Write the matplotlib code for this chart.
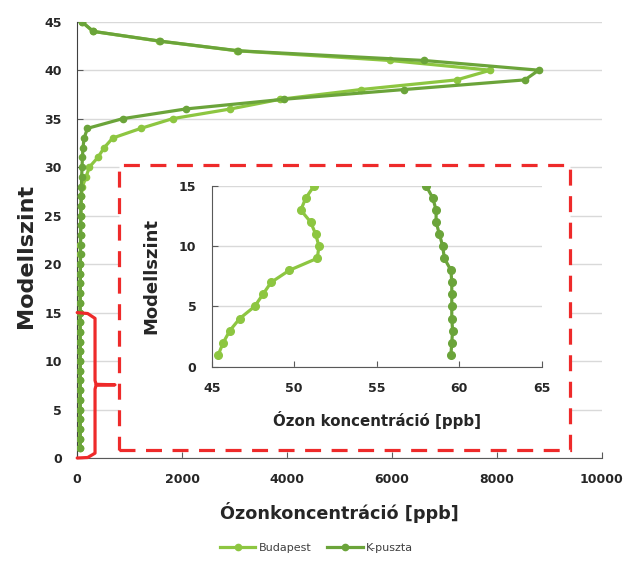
import matplotlib
matplotlib.use("Agg")
import matplotlib.pyplot as plt
from matplotlib.patches import Rectangle

# modellszintek (1..45) es ozon koncentracio [ppb]
szintek = list(range(1, 46))
budapest = [45.4, 45.7, 46.1, 46.7, 47.6, 48.1, 48.6, 49.7, 51.4, 51.5,
            51.3, 51.0, 50.4, 50.7, 51.2, 52, 53, 54, 56, 57,
            59, 61, 63, 65, 68, 72, 80, 100, 170, 231,
            395, 513, 677, 1215, 1819, 2923, 3875, 5404, 7237, 7880,
            5963, 3050, 1560, 300, 86]
kpuszta = [59.5, 59.55, 59.6, 59.55, 59.55, 59.55, 59.55, 59.5, 59.1, 59.0,
           58.8, 58.6, 58.6, 58.4, 58.0, 58, 59, 60, 61, 62,
           63, 64, 66, 68, 70, 73, 76, 80, 85, 92,
           100, 110, 132, 196, 868, 2069, 3940, 6226, 8538, 8801,
           6613, 3074, 1577, 309, 86]

# also 15 szint a kinagyitott abrara
also_szintek = szintek[:15]
also_budapest = budapest[:15]
also_kpuszta = kpuszta[:15]

fo_xticks = [0, 2000, 4000, 6000, 8000, 10000]
fo_yticks = [0, 5, 10, 15, 20, 25, 30, 35, 40, 45]
kis_xticks = [45, 50, 55, 60, 65]
kis_yticks = [0, 5, 10, 15]

vilagos = "#8DC641"
sotet = "#6BA43A"
piros = "#EE2A2A"
racs = "#D9D9D9"
tengely = "#595959"

plt.rcParams["font.family"] = "DejaVu Sans"

fig = plt.figure(figsize=(6.33, 5.70), dpi=100)

# fo abra
ax = fig.add_axes([77.2 / 633, 112 / 570, 524.4 / 633, 436.3 / 570])
ax.plot(budapest, szintek, color=vilagos, lw=2.3, marker="o", ms=4.5, label="Budapest", zorder=4)
ax.plot(kpuszta, szintek, color=sotet, lw=2.3, marker="o", ms=4.5, label="K-puszta", zorder=5)
ax.set_xlim(0, 10000)
ax.set_ylim(0, 45)
ax.set_xticks(fo_xticks)
ax.set_yticks(fo_yticks)
ax.grid(axis="y", color=racs, lw=1, zorder=0)
ax.set_axisbelow(True)
for s in ["top", "right"]:
    ax.spines[s].set_visible(False)
ax.spines["left"].set_color("#404040")
ax.spines["bottom"].set_color(tengely)
ax.tick_params(direction="in", length=4, color=tengely, pad=11, labelsize=9)
for lab in ax.get_xticklabels() + ax.get_yticklabels():
    lab.set_fontweight("bold")
    lab.set_color("#262626")
ax.set_xlabel("Ózonkoncentráció [ppb]", fontsize=12.7, fontweight="bold", color="#262626")
ax.set_ylabel("Modellszint", fontsize=16, fontweight="bold", color="#262626")
ax.xaxis.set_label_coords(0.5, -0.10)
ax.yaxis.set_label_coords(-0.079, 0.463)

# szaggatott keret a kinagyitott reszhez
keret = Rectangle((788, 0.83), 9397 - 788, 30.2 - 0.83, facecolor="white", edgecolor=piros,
                  lw=2.3, linestyle=(0, (5, 3.3)), zorder=2)
ax.add_patch(keret)

# kapcsos zarojel 0-15 szint
bx = [0, 200, 340, 340, 360, 720, 360, 340, 340, 200, 0]
by = [15, 14.9, 14.4, 8.0, 7.6, 7.55, 7.5, 7.1, 0.5, 0.05, 0]
ax.plot(bx, by, color=piros, lw=2.3, solid_capstyle="round", zorder=6, clip_on=False)

# kinagyitott abra
ins = fig.add_axes([211.7 / 633, 203.3 / 570, 330 / 633, 180.7 / 570])
ins.set_facecolor("none")
ins.plot(also_budapest, also_szintek, color=vilagos, lw=2.3, marker="o", ms=5.5)
ins.plot(also_kpuszta, also_szintek, color=sotet, lw=2.3, marker="o", ms=5.5)
ins.set_xlim(45, 65)
ins.set_ylim(0, 15)
ins.set_xticks(kis_xticks)
ins.set_yticks(kis_yticks)
ins.grid(axis="y", color=racs, lw=1)
ins.set_axisbelow(True)
for s in ["top", "right"]:
    ins.spines[s].set_visible(False)
ins.spines["left"].set_color(tengely)
ins.spines["bottom"].set_color(tengely)
ins.tick_params(direction="in", length=4, color=tengely, pad=11, labelsize=9)
for lab in ins.get_xticklabels() + ins.get_yticklabels():
    lab.set_fontweight("bold")
    lab.set_color("#262626")
ins.set_xlabel("Ózon koncentráció [ppb]", fontsize=10.8, fontweight="bold", color="#262626")
ins.set_ylabel("Modellszint", fontsize=13, fontweight="bold", color="#262626")
ins.xaxis.set_label_coords(0.5, -0.245)
ins.yaxis.set_label_coords(-0.155, 0.5)

# jelmagyarazat alul
h, l = ax.get_legend_handles_labels()
fig.legend(h, l, loc="center", bbox_to_anchor=(0.5, 0.039), ncol=2, frameon=False,
           fontsize=8, handlelength=3.2, handletextpad=0.3, columnspacing=1.4,
           labelcolor="#404040")

fig.savefig("out.png", dpi=100)
